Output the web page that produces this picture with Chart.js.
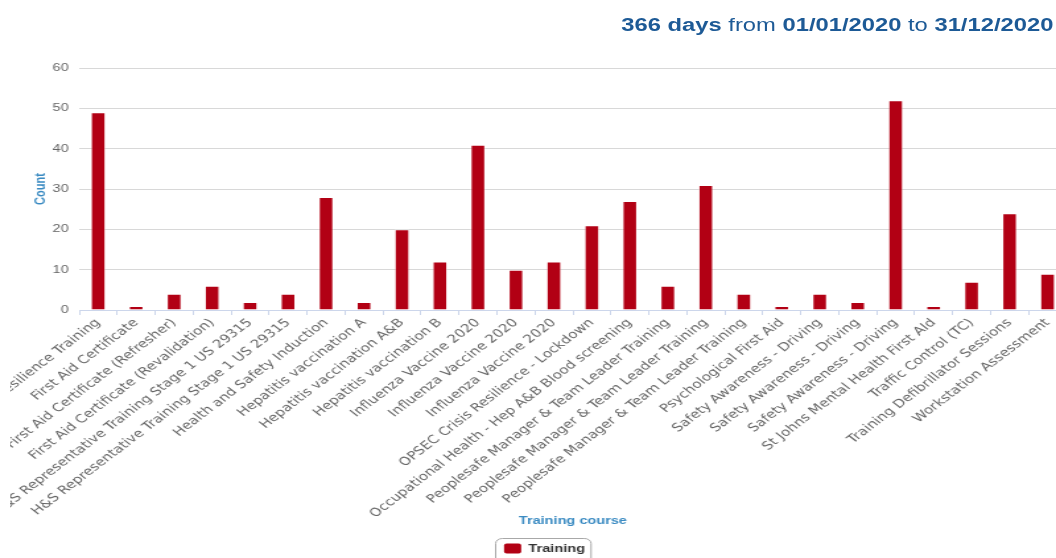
<!DOCTYPE html>
<html>
<head>
<meta charset="utf-8">
<script src="https://cdn.jsdelivr.net/npm/chart.js@4/dist/chart.umd.min.js"></script>
<style>
  html, body { margin: 0; padding: 0; background: #fff; overflow: hidden; }
  #clip { position: relative; width: 1056px; height: 558px; overflow: hidden; }
  #stage { position: absolute; left: 0; top: 0; width: 825px; height: 564px;
           transform: scaleX(1.32); transform-origin: 0 0; }
  #title { position: absolute; left: 0; top: 15px; width: 798px; text-align: right;
           font-family: "Liberation Sans", Arial, sans-serif; font-size: 18px; line-height: 20px;
           color: #1d5a96; white-space: nowrap; }
  #title b { font-weight: bold; }
  canvas { position: absolute; left: 0; top: 0; clip-path: inset(0 0 0 7.6px); }
</style>
</head>
<body>
<div id="clip">
  <div id="stage">
    <canvas id="c" width="825" height="564"></canvas>
    <div id="title"><b>366 days</b> from <b>01/01/2020</b> to <b>31/12/2020</b></div>
  </div>
</div>
<script>
const categories = [
  "Crisis Resilience Training",
  "First Aid Certificate",
  "First Aid Certificate (Refresher)",
  "First Aid Certificate (Revalidation)",
  "H&S Representative Training Stage 1 US 29315",
  "H&S Representative Training Stage 1 US 29315",
  "Health and Safety Induction",
  "Hepatitis vaccination A",
  "Hepatitis vaccination A&B",
  "Hepatitis vaccination B",
  "Influenza Vaccine 2020",
  "Influenza Vaccine 2020",
  "Influenza Vaccine 2020",
  "OPSEC Crisis Resilience - Lockdown",
  "Occupational Health - Hep A&B Blood screening",
  "Peoplesafe Manager & Team Leader Training",
  "Peoplesafe Manager & Team Leader Training",
  "Peoplesafe Manager & Team Leader Training",
  "Psychological First Aid",
  "Safety Awareness - Driving",
  "Safety Awareness - Driving",
  "Safety Awareness - Driving",
  "St Johns Mental Health First AId",
  "Traffic Control (TC)",
  "Training Defibrillator Sessions",
  "Workstation Assessment"
];
const trainingCounts = [49, 1, 4, 6, 2, 4, 28, 2, 20, 12, 41, 10, 12, 21, 27, 6, 31, 4, 1, 4, 2, 52, 1, 7, 24, 9];
const seriesName = "Training";
const yMin = 0, yMax = 60, yStep = 10;
const xAxisTitle = "Training course";
const yAxisTitle = "Count";

const legendFrame = {
  id: 'legendFrame',
  afterDraw(chart) {
    const lg = chart.legend;
    if (!lg || !lg.legendHitBoxes || !lg.legendHitBoxes.length) return;
    const hb = lg.legendHitBoxes[0];
    const ctx = chart.ctx;
    ctx.save();
    ctx.strokeStyle = '#a8a8a8';
    ctx.lineWidth = 1;
    ctx.beginPath();
    ctx.roundRect(Math.round(hb.left - 7) + 0.5, Math.round(hb.top - 5) + 0.5, hb.width + 11, 40, 5);
    ctx.stroke();
    ctx.restore();
  }
};

new Chart(document.getElementById('c'), {
  type: 'bar',
  data: {
    labels: categories,
    datasets: [{
      label: seriesName,
      data: trainingCounts,
      backgroundColor: '#b20014',
      borderColor: 'rgba(255,255,255,0.45)',
      borderWidth: 1,
      categoryPercentage: 1,
      barPercentage: 0.4
    }]
  },
  options: {
    responsive: false,
    animation: false,
    devicePixelRatio: 1,
    layout: { padding: { top: 68, left: 0, right: 0, bottom: 0 } },
    plugins: {
      tooltip: { enabled: false },
      legend: {
        position: 'bottom',
        labels: {
          boxWidth: 13,
          boxHeight: 10,
          padding: 10,
          color: '#333333',
          useBorderRadius: true,
          borderRadius: 2,
          font: { family: '"Liberation Sans", Arial, sans-serif', size: 11, weight: 'bold' },
          generateLabels(chart) {
            return Chart.defaults.plugins.legend.labels.generateLabels(chart).map(l => Object.assign(l, { lineWidth: 0, strokeStyle: 'rgba(0,0,0,0)' }));
          }
        }
      }
    },
    scales: {
      x: {
        afterFit(scale) { scale.height = 223; scale.paddingLeft = 0; scale.paddingRight = 17; },
        grid: { display: true, offset: true, drawOnChartArea: false, drawTicks: true, tickLength: 5, color: '#ccd6eb' },
        border: { display: true, color: '#ccd6eb' },
        ticks: {
          autoSkip: false,
          minRotation: 45,
          maxRotation: 45,
          padding: 1,
          color: '#666666',
          font: { family: '"DejaVu Sans", sans-serif', size: 11.5 }
        },
        title: {
          display: true,
          text: xAxisTitle,
          color: '#3b8bc2',
          padding: { top: 0, bottom: 5 },
          font: { family: '"Liberation Sans", Arial, sans-serif', size: 11, weight: 'bold' }
        }
      },
      y: {
        min: yMin,
        max: yMax,
        afterFit(scale) { scale.width = 60; },
        grid: { color: '#d8d8d8', lineWidth: 1, drawTicks: false },
        border: { display: false },
        ticks: {
          stepSize: yStep,
          padding: 8,
          color: '#666666',
          font: { family: '"Liberation Sans", Arial, sans-serif', size: 11 }
        },
        title: {
          display: true,
          text: yAxisTitle,
          color: '#3b8bc2',
          padding: { top: 24, bottom: 0 },
          font: { family: '"Liberation Sans", Arial, sans-serif', size: 11, weight: 'bold' }
        }
      }
    }
  },
  plugins: [legendFrame]
});
</script>
</body>
</html>
